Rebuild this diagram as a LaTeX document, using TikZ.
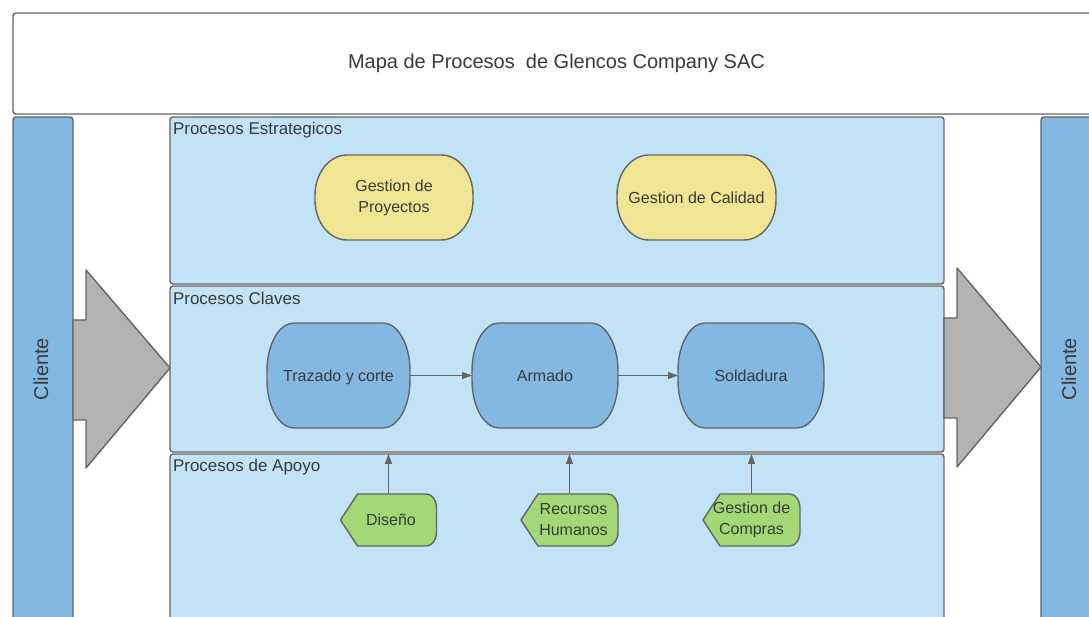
\documentclass[tikz,border=0pt]{standalone}
\usepackage{fontspec}
\setmainfont{Liberation Sans}
\usetikzlibrary{calc,arrows.meta}
\definecolor{linec}{HTML}{646464}
\definecolor{txtc}{HTML}{3A3A3A}
\definecolor{panelc}{HTML}{C2E3F5}
\definecolor{bluec}{HTML}{82B8E2}
\definecolor{yellowc}{HTML}{EFE592}
\definecolor{greenc}{HTML}{A3D876}
\definecolor{grayc}{HTML}{B3B3B3}
\pgfdeclarelayer{back}
\pgfdeclarelayer{shapes}
\pgfsetlayers{back,shapes,main}

% rounded process box drawn behind a named node (elliptic corners)
\newcommand\capsule[4]{%
  \begin{pgfonlayer}{shapes}
  \path[draw=linec, line width=1.4pt, fill=#4]
    let \p1=(#1.south west), \p2=(#1.north east) in
    (\x1+#2, \y2) -- (\x2-#2, \y2)
    arc[start angle=90, end angle=0, x radius=#2, y radius=#3]
    -- (\x2, \y1+#3)
    arc[start angle=0, end angle=-90, x radius=#2, y radius=#3]
    -- (\x1+#2, \y1)
    arc[start angle=270, end angle=180, x radius=#2, y radius=#3]
    -- (\x1, \y2-#3)
    arc[start angle=180, end angle=90, x radius=#2, y radius=#3] -- cycle;
  \end{pgfonlayer}}

% support process: pointed left end, rounded right end
\newcommand\supportshape[1]{%
  \begin{pgfonlayer}{shapes}
  \path[draw=linec, line width=1.4pt, fill=greenc, line join=round]
    let \p1=(#1.south west), \p2=(#1.north east) in
    (\x1, 0.5*\y1+0.5*\y2) -- (\x1+17pt, \y2) -- (\x2-10pt, \y2)
    arc[start angle=90, end angle=0, x radius=10pt, y radius=14pt]
    -- (\x2, \y1+14pt)
    arc[start angle=0, end angle=-90, x radius=10pt, y radius=14pt]
    -- (\x1+17pt, \y1) -- cycle;
  \end{pgfonlayer}}

\tikzset{
  x=1pt, y=1pt,
  every node/.style={text=txtc, inner sep=0pt, outer sep=0pt},
  panel/.style={draw=linec, line width=1.4pt, fill=panelc, rounded corners=3pt,
    minimum width=774pt},
  paneltitle/.style={anchor=west, font=\fontsize{17}{20}\selectfont},
  bar/.style={draw=linec, line width=1.4pt, fill=bluec, rounded corners=3pt},
  bigarrow/.style={draw=linec, line width=1.4pt, fill=grayc, line join=round},
  proc/.style={align=center, font=\fontsize{16}{21}\selectfont},
  flow/.style={draw=linec, line width=1.3pt,
    -{Triangle[length=10pt, width=7pt]}},
}

\begin{document}
\begin{tikzpicture}
\useasboundingbox (0,0) rectangle (1089,617);
\clip (0,0) rectangle (1089,617);

\begin{pgfonlayer}{back}
\fill[white] (0,0) rectangle (1089,617);

% title banner
\node[draw=linec, line width=1.4pt, fill=white, rounded corners=3pt,
  minimum width=1087pt, minimum height=101pt,
  font=\fontsize{20}{24}\selectfont] (title) at (556.5,553.5)
  {Mapa de Procesos~~de Glencos Company SAC};

% customer bars
\draw[bar] (13,500) rectangle (73,-30);
\draw[bar] (1041,500) rectangle (1110,-30);
\node[rotate=90, font=\fontsize{20}{24}\selectfont] (clin) at (41,248) {Cliente};
\node[rotate=90, font=\fontsize{20}{24}\selectfont] (clout) at (1069,248) {Cliente};

% process panels
\node[panel, minimum height=167pt] (estr) at (557,416.5) {};
\node[panel, minimum height=166pt] (clav) at (557,248) {};
\node[panel, minimum height=186pt] (apoy) at (557,70) {};
\node[paneltitle] (estrt) at (173,487) {Procesos Estrategicos};
\node[paneltitle] (clavt) at (173,319) {Procesos Claves};
\node[paneltitle] (apoyt) at (173,150) {Procesos de Apoyo};

% input and output arrows
\draw[bigarrow] (73,297) -- (86,297) -- (86,347) -- (170,249)
  -- (86,149) -- (86,197) -- (73,197) -- cycle;
\draw[bigarrow] (944,299) -- (957,299) -- (957,349) -- (1041,250)
  -- (957,150) -- (957,199) -- (944,199) -- cycle;
\end{pgfonlayer}

% strategic processes
\node[proc, minimum width=158pt, minimum height=85pt] (gp) at (394,419.5)
  {Gestion de\\Proyectos};
\node[proc, minimum width=159pt, minimum height=85pt] (gc) at (696.5,419.5)
  {Gestion de Calidad};
\capsule{gp}{32pt}{40pt}{yellowc}
\capsule{gc}{32pt}{40pt}{yellowc}

% key processes
\node[proc, minimum width=143pt, minimum height=105pt, text depth=0pt]
  (tc) at (338.5,241.5) {Trazado y corte};
\node[proc, minimum width=146pt, minimum height=105pt, text depth=0pt]
  (ar) at (545,241.5) {Armado};
\node[proc, minimum width=146pt, minimum height=105pt, text depth=0pt]
  (so) at (751,241.5) {Soldadura};
\capsule{tc}{27pt}{48pt}{bluec}
\capsule{ar}{27pt}{48pt}{bluec}
\capsule{so}{27pt}{48pt}{bluec}
\draw[flow] (tc.east) -- (ar.west);
\draw[flow] (ar.east) -- (so.west);

% support processes
\node[proc, minimum width=96pt, minimum height=52pt] (di) at (388.5,97)
  {\hspace*{5pt}Diseño};
\node[proc, minimum width=97pt, minimum height=52pt] (rh) at (569.5,97)
  {\hspace*{8pt}Recursos\\\hspace*{8pt}Humanos};
\node[proc, minimum width=97pt, minimum height=52pt] (gco) at (751.5,97)
  {Gestion de\\Compras};
\supportshape{di}
\supportshape{rh}
\supportshape{gco}
\draw[flow] (di.north) -- (di.north |- apoy.north);
\draw[flow] (rh.north) -- (rh.north |- apoy.north);
\draw[flow] (gco.north) -- (gco.north |- apoy.north);
\end{tikzpicture}
\end{document}
